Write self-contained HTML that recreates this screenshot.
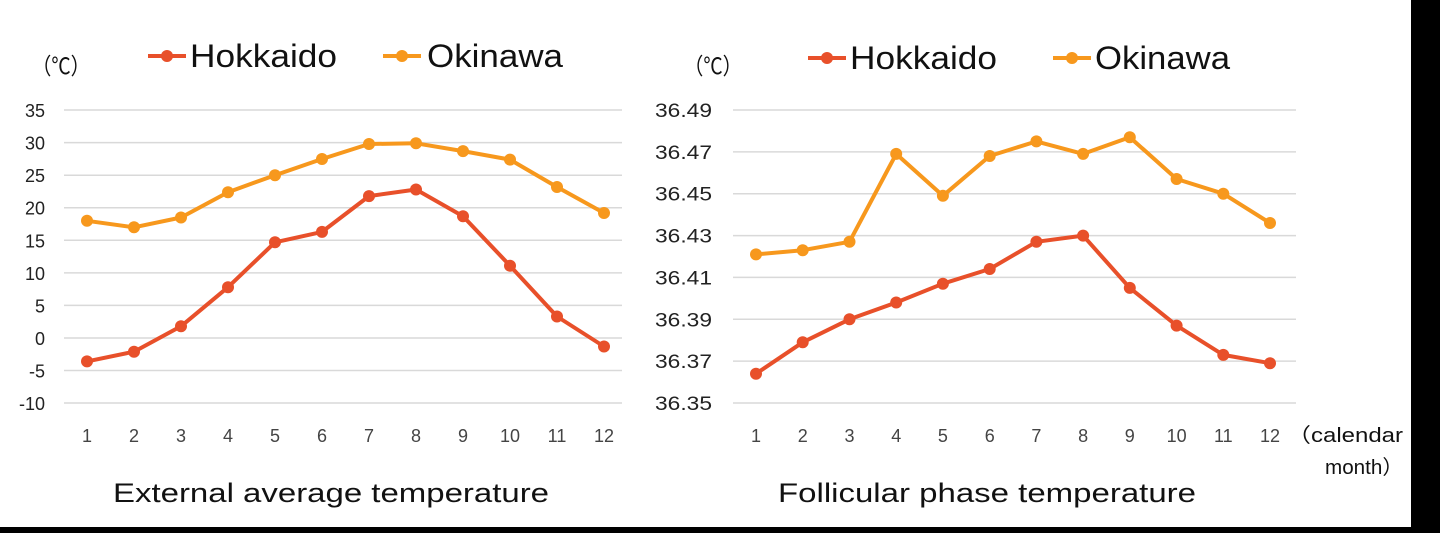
<!DOCTYPE html>
<html><head><meta charset="utf-8"><style>
html,body{margin:0;padding:0;background:#000;}
svg{display:block;font-family:"Liberation Sans","Noto Sans CJK JP",sans-serif;}
</style></head><body>
<svg width="1440" height="533" xmlns="http://www.w3.org/2000/svg">
<rect x="0" y="0" width="1411" height="527" fill="#fff"/>
<g stroke="#d9d9d9" stroke-width="1.5">
<line x1="64" x2="622" y1="110" y2="110"/><line x1="64" x2="622" y1="142.6" y2="142.6"/><line x1="64" x2="622" y1="175.2" y2="175.2"/><line x1="64" x2="622" y1="207.7" y2="207.7"/><line x1="64" x2="622" y1="240.3" y2="240.3"/><line x1="64" x2="622" y1="272.9" y2="272.9"/><line x1="64" x2="622" y1="305.4" y2="305.4"/><line x1="64" x2="622" y1="338" y2="338"/><line x1="64" x2="622" y1="370.5" y2="370.5"/><line x1="64" x2="622" y1="403" y2="403"/>
<line x1="733" x2="1296" y1="110" y2="110"/><line x1="733" x2="1296" y1="151.9" y2="151.9"/><line x1="733" x2="1296" y1="193.7" y2="193.7"/><line x1="733" x2="1296" y1="235.6" y2="235.6"/><line x1="733" x2="1296" y1="277.4" y2="277.4"/><line x1="733" x2="1296" y1="319.3" y2="319.3"/><line x1="733" x2="1296" y1="361.1" y2="361.1"/><line x1="733" x2="1296" y1="403" y2="403"/>
</g>
<g font-size="18" fill="#222" text-anchor="end">
<text x="45" y="117">35</text><text x="45" y="149.6">30</text><text x="45" y="182.2">25</text><text x="45" y="214.7">20</text><text x="45" y="247.3">15</text><text x="45" y="279.9">10</text><text x="45" y="312.4">5</text><text x="45" y="345">0</text><text x="45" y="377.5">-5</text><text x="45" y="410">-10</text>
</g>
<g font-size="19" fill="#222">
<text x="655" y="117" textLength="57" lengthAdjust="spacingAndGlyphs">36.49</text><text x="655" y="158.9" textLength="57" lengthAdjust="spacingAndGlyphs">36.47</text><text x="655" y="200.7" textLength="57" lengthAdjust="spacingAndGlyphs">36.45</text><text x="655" y="242.6" textLength="57" lengthAdjust="spacingAndGlyphs">36.43</text><text x="655" y="284.4" textLength="57" lengthAdjust="spacingAndGlyphs">36.41</text><text x="655" y="326.3" textLength="57" lengthAdjust="spacingAndGlyphs">36.39</text><text x="655" y="368.1" textLength="57" lengthAdjust="spacingAndGlyphs">36.37</text><text x="655" y="410" textLength="57" lengthAdjust="spacingAndGlyphs">36.35</text>
</g>
<g font-size="18" fill="#444" text-anchor="middle">
<text x="87" y="442">1</text><text x="134" y="442">2</text><text x="181" y="442">3</text><text x="228" y="442">4</text><text x="275" y="442">5</text><text x="322" y="442">6</text><text x="369" y="442">7</text><text x="416" y="442">8</text><text x="463" y="442">9</text><text x="510" y="442">10</text><text x="557" y="442">11</text><text x="604" y="442">12</text>
<text x="756" y="442">1</text><text x="802.7" y="442">2</text><text x="849.5" y="442">3</text><text x="896.2" y="442">4</text><text x="942.9" y="442">5</text><text x="989.7" y="442">6</text><text x="1036.4" y="442">7</text><text x="1083.1" y="442">8</text><text x="1129.8" y="442">9</text><text x="1176.6" y="442">10</text><text x="1223.3" y="442">11</text><text x="1270" y="442">12</text>
</g>
<g font-size="20" fill="#111">
<text x="1287" y="442" textLength="116" lengthAdjust="spacingAndGlyphs">（calendar</text>
<text x="1325" y="474" textLength="78" lengthAdjust="spacingAndGlyphs">month）</text>
<text x="32" y="74" font-size="23" textLength="58" lengthAdjust="spacingAndGlyphs">（℃）</text>
<text x="684" y="74" font-size="23" textLength="58" lengthAdjust="spacingAndGlyphs">（℃）</text>
</g>
<g font-size="27" fill="#111">
<text x="113" y="502" textLength="436" lengthAdjust="spacingAndGlyphs">External average temperature</text>
<text x="778" y="502" textLength="418" lengthAdjust="spacingAndGlyphs">Follicular phase temperature</text>
</g>
<g font-size="32" fill="#111">
<text x="190" y="67" textLength="147" lengthAdjust="spacingAndGlyphs">Hokkaido</text><text x="427" y="67" textLength="136" lengthAdjust="spacingAndGlyphs">Okinawa</text>
<text x="850" y="69" textLength="147" lengthAdjust="spacingAndGlyphs">Hokkaido</text><text x="1095" y="69" textLength="135" lengthAdjust="spacingAndGlyphs">Okinawa</text>
</g>
<g stroke-width="4" fill="none" stroke-linejoin="round">
<line x1="148" x2="186" y1="56" y2="56" stroke="#e8502a"/>
<line x1="383" x2="421" y1="56" y2="56" stroke="#f7981d"/>
<line x1="808" x2="846" y1="58" y2="58" stroke="#e8502a"/>
<line x1="1053" x2="1091" y1="58" y2="58" stroke="#f7981d"/>
<polyline stroke="#f7981d" points="87,220.8 134,227.3 181,217.5 228,192.2 275,175.2 322,159 369,144 416,143.3 463,151.1 510,159.6 557,187 604,213"/>
<polyline stroke="#e8502a" points="87,361.4 134,351.7 181,326.3 228,287.2 275,242.3 322,231.9 369,196.1 416,189.5 463,216.2 510,265.7 557,316.5 604,346.5"/>
<polyline stroke="#f7981d" points="756,254.4 802.7,250.2 849.5,241.8 896.2,153.9 942.9,195.8 989.7,156 1036.4,141.4 1083.1,153.9 1129.8,137.2 1176.6,179 1223.3,193.7 1270,223"/>
<polyline stroke="#e8502a" points="756,373.7 802.7,342.3 849.5,319.3 896.2,302.5 942.9,283.7 989.7,269 1036.4,241.8 1083.1,235.6 1129.8,287.9 1176.6,325.6 1223.3,354.9 1270,363.2"/>
</g>
<g fill="#e8502a">
<circle cx="167" cy="56" r="6"/><circle cx="827" cy="58" r="6"/>
<circle cx="87" cy="361.4" r="6"/><circle cx="134" cy="351.7" r="6"/><circle cx="181" cy="326.3" r="6"/><circle cx="228" cy="287.2" r="6"/><circle cx="275" cy="242.3" r="6"/><circle cx="322" cy="231.9" r="6"/><circle cx="369" cy="196.1" r="6"/><circle cx="416" cy="189.5" r="6"/><circle cx="463" cy="216.2" r="6"/><circle cx="510" cy="265.7" r="6"/><circle cx="557" cy="316.5" r="6"/><circle cx="604" cy="346.5" r="6"/>
<circle cx="756" cy="373.7" r="6"/><circle cx="802.7" cy="342.3" r="6"/><circle cx="849.5" cy="319.3" r="6"/><circle cx="896.2" cy="302.5" r="6"/><circle cx="942.9" cy="283.7" r="6"/><circle cx="989.7" cy="269" r="6"/><circle cx="1036.4" cy="241.8" r="6"/><circle cx="1083.1" cy="235.6" r="6"/><circle cx="1129.8" cy="287.9" r="6"/><circle cx="1176.6" cy="325.6" r="6"/><circle cx="1223.3" cy="354.9" r="6"/><circle cx="1270" cy="363.2" r="6"/>
</g>
<g fill="#f7981d">
<circle cx="402" cy="56" r="6"/><circle cx="1072" cy="58" r="6"/>
<circle cx="87" cy="220.8" r="6"/><circle cx="134" cy="227.3" r="6"/><circle cx="181" cy="217.5" r="6"/><circle cx="228" cy="192.2" r="6"/><circle cx="275" cy="175.2" r="6"/><circle cx="322" cy="159" r="6"/><circle cx="369" cy="144" r="6"/><circle cx="416" cy="143.3" r="6"/><circle cx="463" cy="151.1" r="6"/><circle cx="510" cy="159.6" r="6"/><circle cx="557" cy="187" r="6"/><circle cx="604" cy="213" r="6"/>
<circle cx="756" cy="254.4" r="6"/><circle cx="802.7" cy="250.2" r="6"/><circle cx="849.5" cy="241.8" r="6"/><circle cx="896.2" cy="153.9" r="6"/><circle cx="942.9" cy="195.8" r="6"/><circle cx="989.7" cy="156" r="6"/><circle cx="1036.4" cy="141.4" r="6"/><circle cx="1083.1" cy="153.9" r="6"/><circle cx="1129.8" cy="137.2" r="6"/><circle cx="1176.6" cy="179" r="6"/><circle cx="1223.3" cy="193.7" r="6"/><circle cx="1270" cy="223" r="6"/>
</g>
</svg>
</body></html>
